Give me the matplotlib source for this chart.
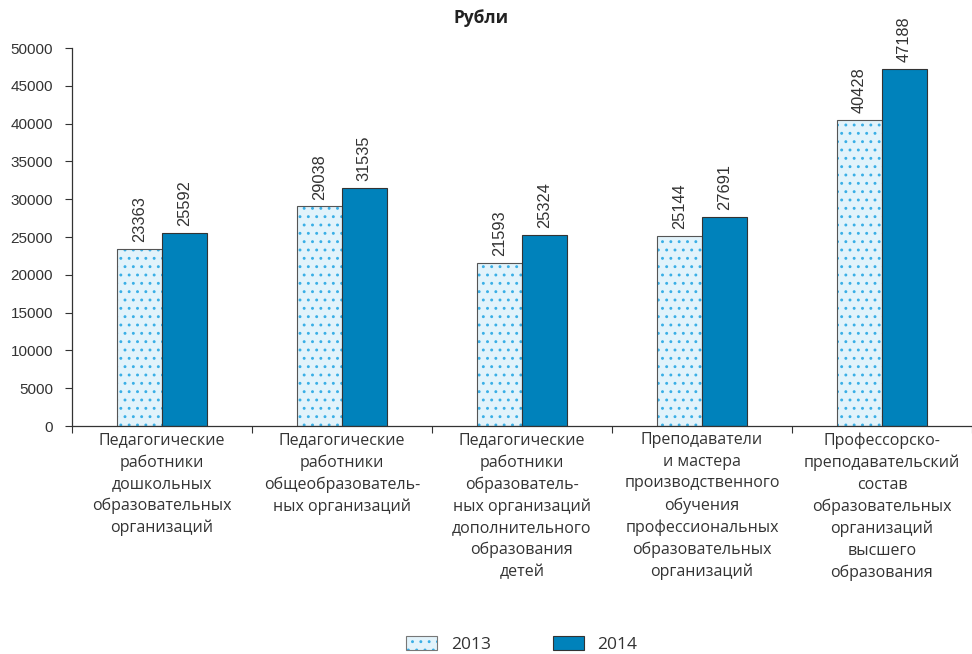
import matplotlib.pyplot as plt
import matplotlib.patches as mpatches
import numpy as np

categories = [
    "Педагогические\nработники\nдошкольных\nобразовательных\nорганизаций",
    "Педагогические\nработники\nобщеобразователь-\nных организаций",
    "Педагогические\nработники\nобразователь-\nных организаций\nдополнительного\nобразования\nдетей",
    "Преподаватели\nи мастера\nпроизводственного\nобучения\nпрофессиональных\nобразовательных\nорганизаций",
    "Профессорско-\nпреподавательский\nсостав\nобразовательных\nорганизаций\nвысшего\nобразования",
]
y2013 = [23363, 29038, 21593, 25144, 40428]
y2014 = [25592, 31535, 25324, 27691, 47188]
years = ["2013", "2014"]

plt.rcParams['hatch.linewidth'] = 0.9
num_font = 'Liberation Sans'

fig = plt.figure(figsize=(9.72, 6.54), dpi=100)
ax = fig.add_axes([0.0738, 0.3486, 0.9262, 0.578])

x = np.arange(len(categories))
w = 0.25
text_col = '#333333'
hatch_col = '#3aafe6'
fill13 = '#e2f3fb'

# 2013: light fill with cyan dots, then dark outline on top
ax.bar(x - w / 2, y2013, w, color=fill13, edgecolor=hatch_col, linewidth=0, hatch='..')
b1 = ax.bar(x - w / 2, y2013, w, fill=False, edgecolor='#555555', linewidth=0.8)
b2 = ax.bar(x + w / 2, y2014, w, color='#0082bb', edgecolor='#333333', linewidth=0.8)

for bars, vals in [(b1, y2013), (b2, y2014)]:
    for r, v in zip(bars, vals):
        ax.annotate(str(v), (r.get_x() + r.get_width() / 2, v),
                    xytext=(0, 5), textcoords='offset points',
                    rotation=90, ha='center', va='bottom',
                    fontsize=11.8, color=text_col, family=num_font)

ax.set_xlim(-0.5, 4.5)
ax.set_ylim(0, 50000)
ax.set_yticks(np.arange(0, 50001, 5000))
ax.tick_params(axis='y', labelsize=11, length=5, pad=8.5, color='#333333', labelcolor=text_col)
for t in ax.get_yticklabels():
    t.set_family(num_font)

ax.set_xticks(np.arange(-0.5, 5, 1))
ax.set_xticklabels([])
ax.tick_params(axis='x', length=5, color='#333333')
for i, c in enumerate(categories):
    ax.text(i, -0.017, c, transform=ax.get_xaxis_transform(), ha='center', va='top',
            fontsize=11.5, color=text_col, family='Open Sans', linespacing=1.46)

for s in ['top', 'right']:
    ax.spines[s].set_visible(False)
for s in ['left', 'bottom']:
    ax.spines[s].set_color('#333333')
    ax.spines[s].set_linewidth(0.9)

fig.text(0.495, 0.972, "Рубли", ha='center', va='center', fontsize=12.5,
         fontweight='bold', color='#222222', family='Open Sans')

h13 = mpatches.Patch(facecolor=fill13, edgecolor=hatch_col, hatch='..', linewidth=0)
h13b = mpatches.Patch(facecolor='none', edgecolor='#777777', linewidth=0.8)
h14 = mpatches.Patch(facecolor='#0082bb', edgecolor='#333333', linewidth=0.8)
leg = fig.legend(handles=[(h13, h13b), h14], labels=years, loc='center',
                 bbox_to_anchor=(0.537, 0.0145), ncol=2, frameon=False,
                 handlelength=1.75, handleheight=0.9, handletextpad=0.8,
                 columnspacing=3.6, prop={'family': 'Open Sans', 'size': 12.5})
for t in leg.get_texts():
    t.set_color(text_col)

fig.savefig('out.png', dpi=100)
